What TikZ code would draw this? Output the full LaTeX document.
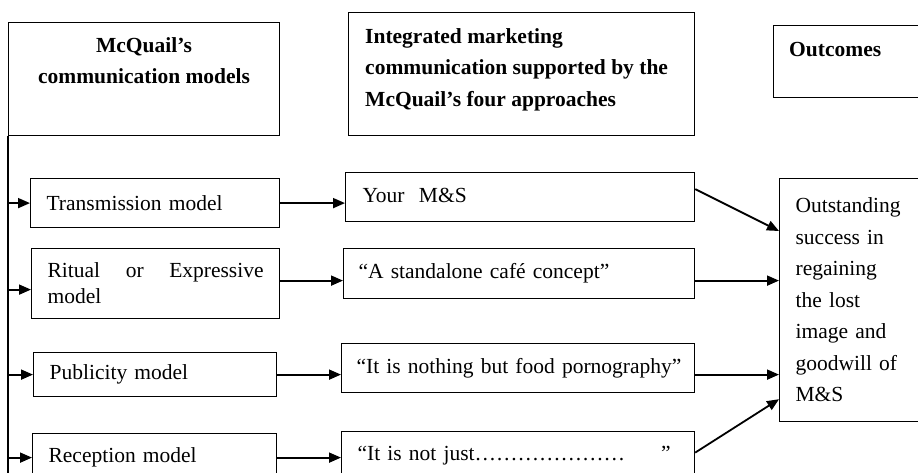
\documentclass[tikz,border=0pt]{standalone}
\usepackage{fontspec}
\setmainfont{Liberation Serif}
\usetikzlibrary{arrows.meta, positioning, calc}
\newcommand{\diagfont}{\fontsize{21.5pt}{31.5pt}\selectfont}
\tikzset{
  framebox/.style={
    draw, line width=1.2pt, rectangle, inner sep=0pt, anchor=north west
  },
  itembox/.style={
    draw, line width=1.2pt, align=left, anchor=north west,
    inner xsep=16pt, inner ysep=0pt, font=\diagfont
  },
  titletext/.style={
    inner sep=0pt, font=\diagfont\bfseries
  },
  flowarrow/.style={
    -{Triangle[length=12pt, width=10pt]}, line width=1.8pt
  },
}

\begin{document}
\begin{tikzpicture}[x=1pt, y=-1pt]
  \useasboundingbox (0,0) rectangle (918,473);

  % ── Headers ──
  \node[framebox, minimum width=271pt, minimum height=113pt] (mcqbox) at (8,22) {};
  \node[titletext, align=center, below=15pt of mcqbox.north] (mcqtitle)
    {McQuail’s\\communication models};
  \node[framebox, minimum width=346pt, minimum height=123pt] (imcbox) at (348,12) {};
  \node[titletext, align=left, below right=16pt and 17pt of imcbox.north west] (imctitle)
    {Integrated marketing\\communication supported by the\\McQuail’s four approaches};
  \node[framebox, minimum width=200pt, minimum height=72pt] (outhead) at (773,25) {};
  \node[titletext, below right=17pt and 16pt of outhead.north west] (outtitle) {Outcomes};

  % ── Models ──
  \node[itembox, text width=217pt, minimum height=49pt] (transbox) at (30,178) {Transmission model};
  \node[itembox, text width=216pt, minimum height=70pt, font=\fontsize{21.5pt}{26pt}\selectfont]
    (ritualbox) at (31,248) {Ritual \hfill or \hfill Expressive\\model};
  \node[itembox, text width=211pt, minimum height=44pt] (pubbox) at (33,352) {Publicity model};
  \node[itembox, text width=212pt, minimum height=48pt] (recbox) at (32,433) {Reception model};

  % ── Approaches ──
  \node[itembox, inner xsep=17pt, text width=315pt, minimum height=49pt] (yourbox) at (345,172)
    {\raisebox{3pt}{Your\ \ M\&S}};
  \node[itembox, inner xsep=15pt, text width=321pt, minimum height=50pt] (standbox) at (343,248)
    {“A standalone café concept”};
  \node[itembox, inner xsep=15pt, text width=323pt, minimum height=49pt] (pornbox) at (341,343)
    {\mbox{“It is nothing but food pornography”}};
  \node[itembox, inner xsep=16pt, text width=321pt, minimum height=48pt] (notbox) at (341,431)
    {“It is not just…………………\hspace{36pt}”};

  % ── Outcome ──
  \node[itembox, text width=168pt, minimum height=243pt] (outbox) at (779,178)
    {Outstanding\\success in\\regaining\\the lost\\image and\\goodwill of\\M\&S};

  % ── Trunk ──
  \coordinate (trunkend) at (8,490);
  \draw[line width=1.2pt] (mcqbox.south west) -- (trunkend);
  \draw[flowarrow] (transbox.west -| mcqbox.west) -- (transbox.west);
  \draw[flowarrow] ($(ritualbox.west -| mcqbox.west)+(0,6)$) -- ($(ritualbox.west)+(0,6)$);
  \draw[flowarrow] (pubbox.west -| mcqbox.west) -- (pubbox.west);
  \draw[flowarrow] (recbox.west -| mcqbox.west) -- (recbox.west);

  % ── Models to approaches ──
  \draw[flowarrow] (transbox.east) -- (transbox.east -| yourbox.west);
  \draw[flowarrow] ($(ritualbox.east)+(0,-3)$) -- ($(standbox.west)+(0,7)$);
  \draw[flowarrow] (pubbox.east) -- (pubbox.east -| pornbox.west);
  \draw[flowarrow] (recbox.east) -- (recbox.east -| notbox.west);

  % ── Approaches to outcome ──
  \draw[flowarrow] ($(yourbox.east)+(0,-8)$) -- ($(outbox.north west)+(0,53)$);
  \draw[flowarrow] ($(standbox.east)+(0,7)$) -- ($(outbox.west |- standbox.east)+(0,7)$);
  \draw[flowarrow] (pornbox.east |- pubbox.east) -- (outbox.west |- pubbox.east);
  \draw[flowarrow] ($(notbox.east)+(0,-3)$) -- ($(outbox.south west)+(0,-23)$);
\end{tikzpicture}
\end{document}
